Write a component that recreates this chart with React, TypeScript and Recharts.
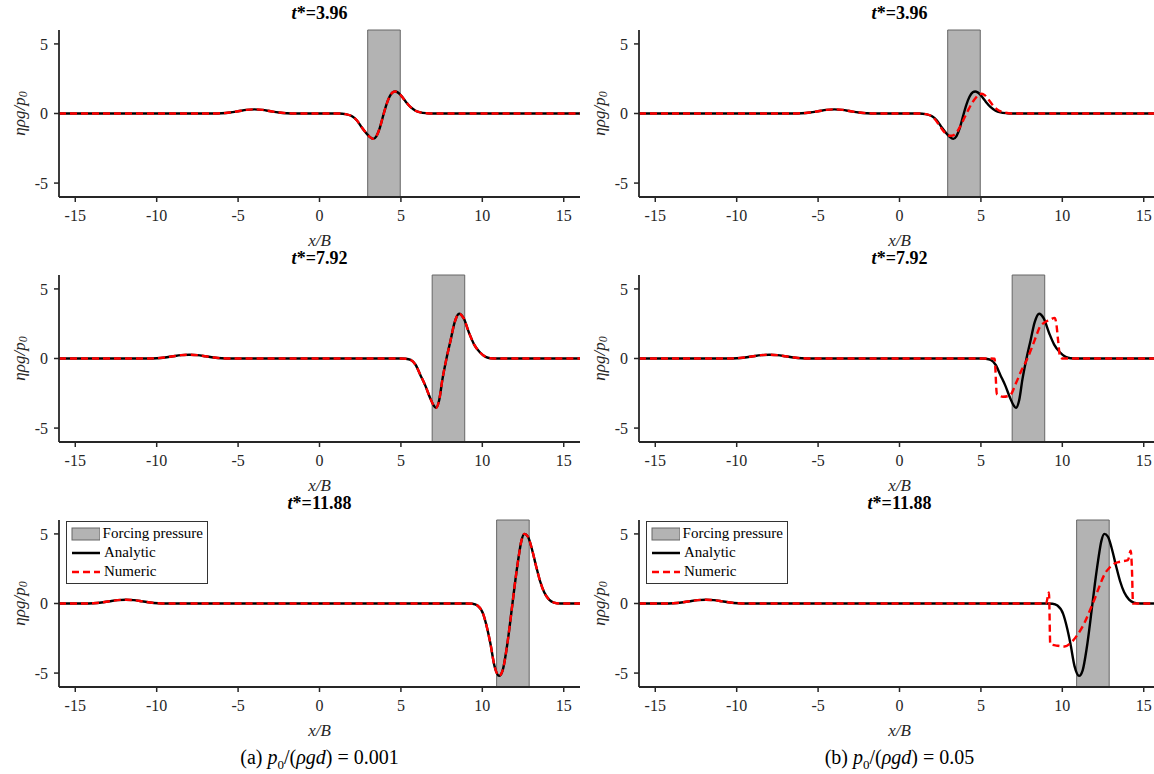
import React from "react";
import { LineChart, Line, XAxis, YAxis, ReferenceArea, Legend } from "recharts";

const xTicks = [-15, -10, -5, 0, 5, 10, 15];
const yTicks = [-5, 0, 5];
const times = ["3.96", "7.92", "11.88"];
const forcingStart = [2.96, 6.92, 10.88];
const forcingEnd = [4.96, 8.92, 12.88];
const legendNames = ["Forcing pressure", "Analytic", "Numeric"];
const caseLabels = ["(a)", "(b)"];
const caseValues = ["0.001", "0.05"];

// analytic solution (same in both columns)
const anaX1 = [-16, -6.5, -6, -5.5, -5, -4.5, -4, -3.5, -3, -2.5, -2, -1.5, 1.2, 1.6, 2.0, 2.3, 2.6, 2.9, 3.1, 3.3, 3.5, 3.7, 3.9, 4.1, 4.3, 4.5, 4.65, 4.8, 5.0, 5.3, 5.6, 5.9, 6.2, 6.6, 7, 16];
const anaY1 = [0, 0, 0.02, 0.07, 0.16, 0.26, 0.3, 0.26, 0.16, 0.07, 0.02, 0, 0, -0.05, -0.2, -0.5, -1.0, -1.45, -1.7, -1.82, -1.62, -1.05, -0.2, 0.6, 1.2, 1.52, 1.58, 1.52, 1.3, 0.85, 0.45, 0.2, 0.08, 0.02, 0, 0];
const anaX2 = [-16, -10.5, -10, -9.5, -9, -8.5, -8, -7.5, -7, -6.5, -6, -5.5, 5.0, 5.3, 5.6, 5.9, 6.2, 6.5, 6.8, 7.0, 7.15, 7.35, 7.55, 7.8, 8.05, 8.3, 8.58, 8.85, 9.2, 9.5, 9.85, 10.2, 10.5, 11, 16];
const anaY2 = [0, 0, 0.02, 0.07, 0.16, 0.24, 0.27, 0.24, 0.16, 0.07, 0.02, 0, 0, -0.02, -0.1, -0.45, -1.2, -1.95, -2.85, -3.35, -3.55, -3.0, -1.5, 0, 1.3, 2.6, 3.22, 2.9, 1.8, 1.0, 0.45, 0.12, 0.02, 0, 0];
const anaX3 = [-16, -14.4, -13.9, -13.4, -12.9, -12.4, -11.9, -11.4, -10.9, -10.4, -9.9, -9.4, 9.0, 9.4, 9.7, 10.05, 10.3, 10.5, 10.75, 11.03, 11.25, 11.5, 11.8, 12.0, 12.2, 12.4, 12.58, 12.8, 13.05, 13.3, 13.55, 13.8, 14.1, 14.4, 14.8, 16];
const anaY3 = [0, 0, 0.02, 0.07, 0.16, 0.24, 0.27, 0.24, 0.16, 0.07, 0.02, 0, 0, -0.02, -0.15, -0.75, -1.8, -2.9, -4.5, -5.2, -4.8, -3.2, -0.5, 1.4, 3.1, 4.5, 5.0, 4.8, 3.9, 2.7, 1.6, 0.8, 0.28, 0.07, 0, 0];

// numeric, case (b): departs from the analytic one near the forcing
const numX1b = [-16, -6.5, -6, -5.5, -5, -4.5, -4, -3.5, -3, -2.5, -2, -1.5, 1.3, 1.6, 1.9, 2.2, 2.5, 2.8, 3.0, 3.2, 3.45, 3.7, 3.95, 4.2, 4.45, 4.7, 4.9, 5.05, 5.25, 5.5, 5.8, 6.1, 6.5, 6.9, 16];
const numY1b = [0, 0, 0.02, 0.07, 0.16, 0.26, 0.3, 0.26, 0.16, 0.07, 0.02, 0, 0, -0.04, -0.15, -0.45, -0.95, -1.4, -1.58, -1.6, -1.45, -1.0, -0.4, 0.2, 0.75, 1.15, 1.38, 1.42, 1.3, 0.95, 0.5, 0.22, 0.06, 0, 0];
const numX2b = [-16, -10.5, -10, -9.5, -9, -8.5, -8, -7.5, -7, -6.5, -6, -5.5, 5.6, 5.84, 5.98, 6.35, 6.76, 7.17, 7.48, 7.79, 8.09, 8.4, 8.6, 8.91, 9.22, 9.53, 9.62, 9.75, 9.85, 10.0, 16];
const numY2b = [0, 0, 0.02, 0.07, 0.16, 0.24, 0.27, 0.24, 0.16, 0.07, 0.02, 0, 0, -0.02, -2.56, -2.75, -2.68, -1.73, -0.88, -0.17, 0.67, 1.63, 2.23, 2.59, 2.76, 2.92, 2.6, 1.2, 0.2, 0, 0];
const numX3b = [-16, -14.4, -13.9, -13.4, -12.9, -12.4, -11.9, -11.4, -10.9, -10.4, -9.9, -9.4, 9.0, 9.18, 9.26, 9.73, 10.14, 10.55, 10.96, 11.37, 11.68, 11.98, 12.29, 12.6, 12.91, 13.22, 13.52, 14.03, 14.2, 14.28, 14.34, 14.75, 16];
const numY3b = [0, 0, 0.02, 0.07, 0.16, 0.24, 0.27, 0.24, 0.16, 0.07, 0.02, 0, 0, 0.79, -2.92, -3.04, -3.09, -2.8, -2.2, -1.37, -0.53, 0.31, 1.27, 2.11, 2.59, 2.88, 3.0, 3.12, 3.79, 2.35, 0, 0, 0];

const zip = (xs: number[], ys: number[]) => xs.map((x, i) => ({ x, y: ys[i] }));

const analytic = [zip(anaX1, anaY1), zip(anaX2, anaY2), zip(anaX3, anaY3)];
// in case (a) the numeric curve sits right on the analytic one
const numeric = [
  [zip(anaX1, anaY1), zip(anaX2, anaY2), zip(anaX3, anaY3)],
  [zip(numX1b, numY1b), zip(numX2b, numY2b), zip(numX3b, numY3b)],
];

const serif = '"Liberation Serif", "Times New Roman", serif';
const axisColor = "#262626";

const YLabel = (props: any) => {
  const vb = props.viewBox || { y: 30, height: 167 };
  const cx = 19;
  const cy = vb.y + vb.height / 2;
  return (
    <text
      x={cx}
      y={cy}
      transform={`rotate(-90 ${cx} ${cy})`}
      textAnchor="middle"
      dominantBaseline="central"
      style={{ fontFamily: serif, fontStyle: "italic", fontSize: 17, fill: axisColor }}
    >
      ηρg/p<tspan fontSize={12} dy={4}>0</tspan>
    </text>
  );
};

const XLabel = (props: any) => {
  const vb = props.viewBox || { x: 59, y: 197, width: 521 };
  return (
    <text
      x={vb.x + vb.width / 2}
      y={vb.y + 49}
      textAnchor="middle"
      style={{ fontFamily: serif, fontStyle: "italic", fontSize: 17, fill: axisColor }}
    >
      x/B
    </text>
  );
};

const LegendBox = () => (
  <div
    style={{
      border: "1px solid #333",
      background: "#fff",
      padding: "2px 4px",
      fontFamily: serif,
      fontSize: 15,
      lineHeight: "19px",
      color: "#000",
      width: 132,
      boxSizing: "content-box",
    }}
  >
    {legendNames.map((name, i) => (
      <div key={name} style={{ display: "flex", alignItems: "center" }}>
        <svg width={30} height={14}>
          {i === 0 ? (
            <rect x={1} y={1} width={28} height={12} fill="#b3b3b3" stroke="#666" />
          ) : (
            <line
              x1={1}
              x2={29}
              y1={7}
              y2={7}
              stroke={i === 1 ? "#000" : "#ff0000"}
              strokeWidth={2.5}
              strokeDasharray={i === 2 ? "7 4" : undefined}
            />
          )}
        </svg>
        <span style={{ marginLeft: 3, whiteSpace: "nowrap" }}>{name}</span>
      </div>
    ))}
  </div>
);

const Panel = ({ col, row }: { col: number; row: number }) => (
  <LineChart
    width={580}
    height={260}
    margin={{ top: 30, right: 0, bottom: 0, left: 0 }}
    style={{ position: "absolute", left: col * 580, top: row * 245 }}
  >
    <XAxis
      type="number"
      dataKey="x"
      domain={[-16, 16]}
      ticks={xTicks}
      allowDataOverflow
      height={63}
      tickSize={5}
      tickMargin={8}
      axisLine={{ stroke: axisColor, strokeWidth: 1.8 }}
      tickLine={{ stroke: axisColor, strokeWidth: 1.5 }}
      tick={{ fontFamily: serif, fontSize: 16, fill: axisColor }}
      label={<XLabel />}
    />
    <YAxis
      type="number"
      dataKey="y"
      domain={[-6, 6]}
      ticks={yTicks}
      allowDataOverflow
      width={59}
      tickSize={5}
      tickMargin={6}
      axisLine={{ stroke: axisColor, strokeWidth: 1.8 }}
      tickLine={{ stroke: axisColor, strokeWidth: 1.5 }}
      tick={{ fontFamily: serif, fontSize: 16, fill: axisColor }}
      label={<YLabel />}
    />
    <ReferenceArea
      x1={forcingStart[row]}
      x2={forcingEnd[row]}
      y1={-6}
      y2={6}
      fill="#b3b3b3"
      fillOpacity={1}
      stroke="#666"
      strokeWidth={1}
    />
    <Line
      data={analytic[row]}
      dataKey="y"
      type="monotone"
      stroke="#000"
      strokeWidth={2.4}
      dot={false}
      isAnimationActive={false}
    />
    <Line
      data={numeric[col][row]}
      dataKey="y"
      type="monotone"
      stroke="#ff0000"
      strokeWidth={2.4}
      strokeDasharray="7 4"
      dot={false}
      isAnimationActive={false}
    />
    {row === 2 && (
      <Legend
        layout="horizontal"
        verticalAlign="middle"
        align="center"
        wrapperStyle={{ left: 66, top: 31, width: 142, height: 64 }}
        content={<LegendBox />}
      />
    )}
  </LineChart>
);

export default function App() {
  return (
    <div
      style={{
        position: "absolute",
        left: 0,
        top: 0,
        width: 1154,
        height: 774,
        overflow: "hidden",
        background: "#fff",
      }}
    >
      {[0, 1].map((col) =>
        [0, 1, 2].map((row) => (
          <React.Fragment key={`${col}-${row}`}>
            <div
              style={{
                position: "absolute",
                left: col * 580 + 59,
                top: row * 245 + 2,
                width: 521,
                textAlign: "center",
                fontFamily: serif,
                fontWeight: "bold",
                fontSize: 18,
                lineHeight: "22px",
                color: "#000",
              }}
            >
              <i>t</i>*={times[row]}
            </div>
            <Panel col={col} row={row} />
          </React.Fragment>
        ))
      )}
      {caseLabels.map((lab, col) => (
        <div
          key={lab}
          style={{
            position: "absolute",
            left: col * 580 + 59,
            top: 745,
            width: 521,
            textAlign: "center",
            fontFamily: serif,
            fontSize: 20,
            lineHeight: "24px",
            color: "#000",
          }}
        >
          {lab} <i>p</i>
          <sub style={{ fontSize: 13 }}>0</sub>/(<i>ρgd</i>) = {caseValues[col]}
        </div>
      ))}
    </div>
  );
}
